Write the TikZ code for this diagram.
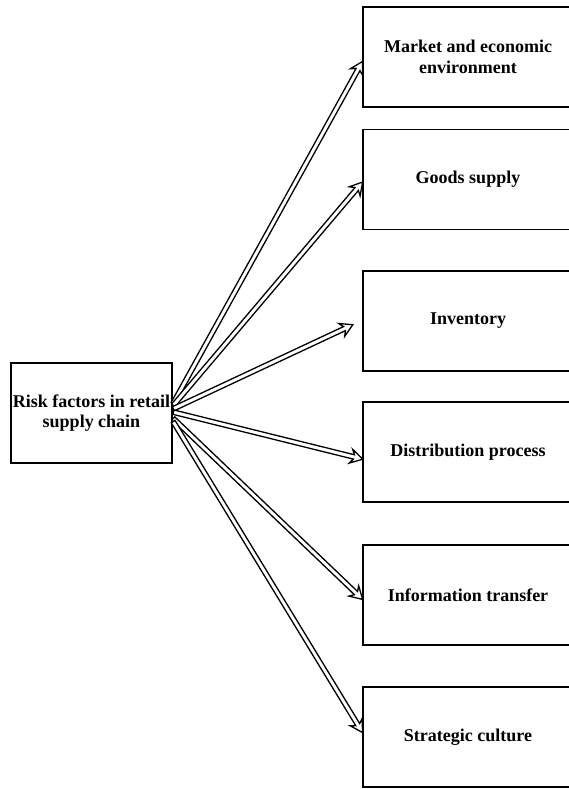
\documentclass[tikz,border=0pt]{standalone}
\usepackage{fontspec}
\setmainfont{Liberation Serif}
\usetikzlibrary{calc,shapes.arrows}
\begin{document}
\begin{tikzpicture}[x=1pt,y=-1pt,
  box/.style={draw, line width=1.6pt, minimum width=210pt, minimum height=100pt, inner sep=0pt, align=center, font=\bfseries\fontsize{18}{21}\selectfont},
  src/.style={draw, line width=1.6pt, minimum width=161pt, minimum height=100pt, inner sep=0pt, align=center, font=\bfseries\fontsize{18}{20.5}\selectfont},
  arr/.style={draw, line width=1.3pt, single arrow, single arrow tip angle=60, single arrow head extend=4.8pt, single arrow head indent=3pt, inner xsep=0pt, inner ysep=1.6pt, fill=white}]
\useasboundingbox (0,0) rectangle (569,789);
\begin{scope}
\clip (0,0) rectangle (569,789);
\node[src] (L) at (91.5,413) {Risk factors in retail\\supply chain};
\node[box] (b1) at (468,57) {Market and economic\\environment};
\node[box] (b2) at (468,179.5) {Goods supply};
\node[box] (b3) at (468,321) {Inventory};
\node[box] (b4) at (468,452) {Distribution process};
\node[box] (b5) at (468,595) {Information transfer};
\node[box] (b6) at (468,737) {Strategic culture};
\end{scope}
\coordinate (a1) at ([yshift=9pt]L.east);
\coordinate (a2) at ([yshift=7pt]L.east);
\coordinate (a3) at ([yshift=4pt]L.east);
\coordinate (a4) at ([yshift=1pt]L.east);
\coordinate (a5) at ([yshift=-5pt]L.east);
\coordinate (a6) at ([yshift=-8pt]L.east);
\coordinate (t1) at ([yshift=-5pt]b1.west);
\coordinate (t2) at ([yshift=-3pt]b2.west);
\coordinate (t3) at ([xshift=-10pt,yshift=-4pt]b3.west);
\coordinate (t4) at ([yshift=-7pt]b4.west);
\coordinate (t5) at ([yshift=-4pt]b5.west);
\coordinate (t6) at ([yshift=5pt]b6.west);
\foreach \i in {1,...,6}
  \path let \p1=($(t\i)-(a\i)$), \n1={veclen(\x1,\y1)}, \n2={atan2(\y1,\x1)} in
    node[arr, minimum height=\n1, rotate=\n2, anchor=tail] (arr\i) at (a\i) {};
\end{tikzpicture}
\end{document}
